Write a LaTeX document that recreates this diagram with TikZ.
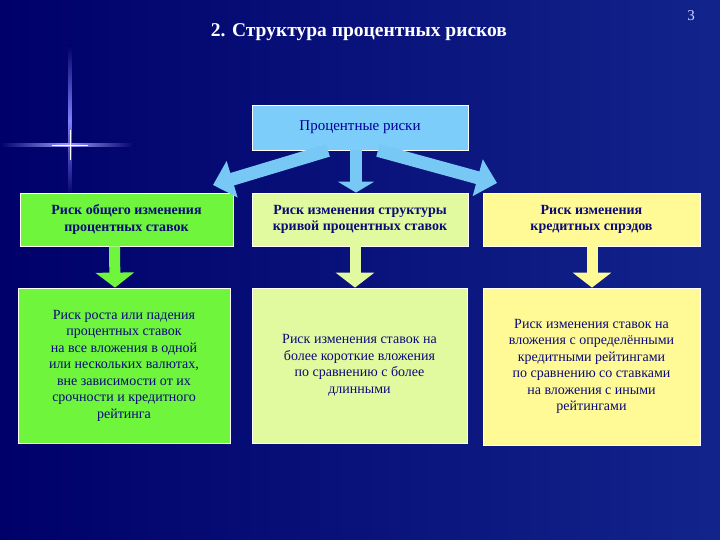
\documentclass[tikz,border=0pt]{standalone}
\usepackage{fontspec}
\setmainfont{Liberation Serif}
\usetikzlibrary{arrows.meta}
\definecolor{navyL}{RGB}{0,0,105}
\definecolor{navyR}{RGB}{18,36,140}
\definecolor{skyBox}{RGB}{125,205,250}
\definecolor{skyArr}{RGB}{120,200,245}
\definecolor{greenBox}{RGB}{110,245,60}
\definecolor{limeBox}{RGB}{225,250,160}
\definecolor{yellowBox}{RGB}{255,250,150}
\definecolor{inkBlue}{RGB}{10,10,120}
\begin{document}
\begin{tikzpicture}[x=1pt, y=-1pt,
	box/.style={ draw=white, line width=0.8pt, text=inkBlue, align=center, inner sep=2pt },
	head/.style={ box, font=\fontsize{14}{16.5}\selectfont\bfseries, minimum height=53pt },
	body/.style={ box, font=\fontsize{14}{16.5}\selectfont },
	bigarrow/.style={ line width=13pt, -{Triangle[width=37pt, length=20pt]} },
	downarrow/.style={ line width=11pt, -{Triangle[width=38pt, length=15pt]} }]
	% background and sparkle
	\shade[left color=navyL, right color=navyR] (0,0) rectangle (720,540);
	\shade[top color=navyL, bottom color=navyL, middle color=blue!50!white] (68.5,45) rectangle (71.5,197);
	\shade[left color=navyL, right color=navyL, middle color=blue!40!white] (0,143.5) rectangle (135,146.5);
	\draw[white, line width=0.9pt] (70,130) -- (70,160);
	\draw[white, line width=0.9pt] (52,145) -- (88,145);
	% title
	\node[text=white, font=\fontsize{19.5}{22}\selectfont\bfseries] (title) at (359,32) {2. Структура процентных рисков};
	\node[text=white!85!blue, font=\fontsize{15}{18}\selectfont] (num) at (691,16) {3};
	% boxes
	\node[box, fill=skyBox, minimum width=216pt, minimum height=45pt, text=blue!60!black, font=\fontsize{15}{18}\selectfont] (top) at (360,127.5) {Процентные риски};
	\node[head, fill=greenBox, minimum width=213pt] (r1a) at (126.5,219.5) {Риск общего изменения\\процентных ставок};
	\node[head, fill=limeBox, minimum width=216pt] (r1b) at (360,219.5) {Риск изменения структуры\\кривой процентных ставок};
	\node[head, fill=yellowBox, minimum width=217pt] (r1c) at (591.5,219.5) {Риск изменения\\кредитных спрэдов};
	\node[body, fill=greenBox, minimum width=212pt, minimum height=155pt] (r2a) at (124,365.5) {Риск роста или падения\\процентных ставок\\на все вложения в одной\\или нескольких валютах,\\вне зависимости от их\\срочности и кредитного\\рейтинга};
	\node[body, fill=limeBox, minimum width=215pt, minimum height=155pt] (r2b) at (359.5,365.5) {Риск изменения ставок на\\более короткие вложения\\по сравнению с более\\длинными};
	\node[body, fill=yellowBox, minimum width=217pt, minimum height=157pt] (r2c) at (591.5,366.5) {Риск изменения ставок на\\вложения с определёнными\\кредитными рейтингами\\по сравнению со ставками\\на вложения с иными\\рейтингами};
	% arrows
	\coordinate (tipL) at (213,185);
	\coordinate (tipR) at (497,183);
	\draw[bigarrow, skyArr] ([xshift=-32pt]top.south) -- (tipL);
	\draw[bigarrow, skyArr] ([xshift=18pt]top.south) -- (tipR);
	\draw[skyArr, line width=12pt, -{Triangle[width=36pt, length=11pt]}] ([xshift=-4pt]top.south) -- ([xshift=-4pt]r1b.north);
	\draw[downarrow, greenBox] ([xshift=-12pt]r1a.south) -- ([xshift=-9pt]r2a.north);
	\draw[downarrow, limeBox] ([xshift=-5pt]r1b.south) -- ([xshift=-4.5pt]r2b.north);
	\draw[downarrow, yellowBox] ([xshift=0.5pt]r1c.south) -- ([xshift=0.5pt]r2c.north);
\end{tikzpicture}
\end{document}
